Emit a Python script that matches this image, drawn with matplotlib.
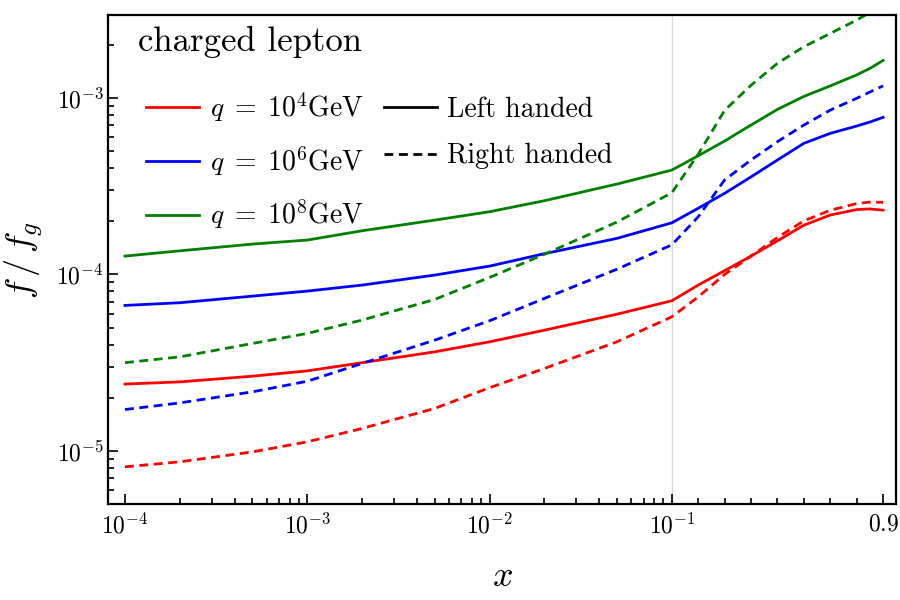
import numpy as np
import matplotlib
matplotlib.use("Agg")
import matplotlib.pyplot as plt
from matplotlib.lines import Line2D

plt.rcParams['font.family'] = 'serif'
plt.rcParams['font.serif'] = ['cmr10', 'DejaVu Serif']
plt.rcParams['mathtext.fontset'] = 'cm'
plt.rcParams['axes.unicode_minus'] = False

# x grid (log part up to 0.1, linear part after)
x_left = [1e-4, 2e-4, 5e-4, 1e-3, 2e-3, 5e-3, 1e-2, 2e-2, 5e-2, 0.1]
x_right = [0.2, 0.3, 0.4, 0.5, 0.6, 0.7, 0.8, 0.85, 0.9]
x_all = x_left + x_right

red_left = [2.39e-5, 2.46e-5, 2.65e-5, 2.84e-5, 3.16e-5, 3.64e-5, 4.15e-5, 4.83e-5, 5.95e-5, 7.09e-5,
            8.7e-5, 1.05e-4, 1.27e-4, 1.55e-4, 1.90e-4, 2.17e-4, 2.33e-4, 2.35e-4, 2.31e-4]
red_right = [8.12e-6, 8.67e-6, 9.87e-6, 1.125e-5, 1.34e-5, 1.74e-5, 2.28e-5, 2.93e-5, 4.15e-5, 5.75e-5,
             7.46e-5, 1.00e-4, 1.27e-4, 1.62e-4, 2.01e-4, 2.31e-4, 2.52e-4, 2.57e-4, 2.56e-4]
blue_left = [6.67e-5, 6.91e-5, 7.53e-5, 8.04e-5, 8.70e-5, 9.91e-5, 1.114e-4, 1.31e-4, 1.60e-4, 1.96e-4,
             2.37e-4, 2.88e-4, 3.57e-4, 4.45e-4, 5.53e-4, 6.30e-4, 6.93e-4, 7.3e-4, 7.76e-4]
blue_right = [1.715e-5, 1.87e-5, 2.16e-5, 2.48e-5, 3.13e-5, 4.24e-5, 5.46e-5, 7.31e-5, 1.07e-4, 1.47e-4,
              2.12e-4, 3.43e-4, 4.45e-4, 5.65e-4, 7.02e-4, 8.53e-4, 9.95e-4, 1.08e-3, 1.17e-3]
green_left = [1.27e-4, 1.36e-4, 1.485e-4, 1.565e-4, 1.767e-4, 2.03e-4, 2.265e-4, 2.615e-4, 3.25e-4, 3.90e-4,
              4.7e-4, 5.70e-4, 7.02e-4, 8.61e-4, 1.02e-3, 1.17e-3, 1.35e-3, 1.47e-3, 1.63e-3]
green_right = [3.16e-5, 3.41e-5, 4.06e-5, 4.63e-5, 5.51e-5, 7.21e-5, 9.61e-5, 1.30e-4, 1.98e-4, 2.90e-4,
               4.8e-4, 8.5e-4, 1.18e-3, 1.57e-3, 1.95e-3, 2.32e-3, 2.76e-3, 3.05e-3, 3.4e-3]

q_labels = [r"$q\;=\;10^{4}\mathrm{GeV}$", r"$q\;=\;10^{6}\mathrm{GeV}$", r"$q\;=\;10^{8}\mathrm{GeV}$"]
colors = ["#ff0000", "#0000ff", "#008000"]

SLOPE = 1.449


def fwd(x):
    x = np.asarray(x, dtype=float)
    lg = np.log10(np.maximum(x, 1e-30))
    return np.where(x <= 0.1, lg, -1 + (x - 0.1) * SLOPE)


def inv(y):
    y = np.asarray(y, dtype=float)
    return np.where(y <= -1, 10.0 ** np.minimum(y, 0), 0.1 + (y + 1) / SLOPE)


fig = plt.figure(figsize=(9, 6), dpi=100)
ax = fig.add_axes([0.12, 0.16, 0.8756, 0.815])

ax.axvline(0.1, color="#d8d8d8", lw=1, zorder=0)

DASH = (0, (3.2, 2.0))
series = [(red_left, red_right), (blue_left, blue_right), (green_left, green_right)]
for (left, right), c in zip(series, colors):
    ax.plot(x_all, left, color=c, lw=2.0)
    ax.plot(x_all, right, color=c, lw=2.0, ls=DASH)

ax.set_xscale('function', functions=(fwd, inv))
ax.set_yscale('log')
ax.set_xlim(8.07e-5, 0.949)
ax.set_ylim(5e-6, 2.95e-3)

ax.set_xticks([1e-4, 1e-3, 1e-2, 1e-1, 0.9])
ax.set_xticklabels([r"$10^{-4}$", r"$10^{-3}$", r"$10^{-2}$", r"$10^{-1}$", r"$0.9$"])
minor_x = [m * 10.0 ** e for e in range(-4, -1) for m in range(2, 10)] + [0.2, 0.3, 0.4, 0.5, 0.6, 0.7, 0.8]
ax.set_xticks(minor_x, minor=True)
ax.set_yticks([1e-5, 1e-4, 1e-3])
ax.set_yticklabels([r"$10^{-5}$", r"$10^{-4}$", r"$10^{-3}$"])
ax.set_yticks([m * 10.0 ** e for e in range(-6, -2) for m in range(2, 10)
               if 5e-6 <= m * 10.0 ** e <= 2.95e-3], minor=True)
ax.tick_params(which='both', direction='in', labelsize=17, width=1.2, colors='black')
ax.tick_params(which='major', length=7)
ax.tick_params(which='minor', length=4)
ax.tick_params(axis='x', which='major', pad=7)
ax.tick_params(axis='y', which='major', pad=3)
for s in ax.spines.values():
    s.set_linewidth(1.6)

ax.set_xlabel(r"$x$", fontsize=26)
ax.set_ylabel(r"$f\,/\,f_g$", fontsize=26)
ax.xaxis.set_label_coords(0.5, -0.118)
ax.yaxis.set_label_coords(-0.08, 0.5)

ax.text(0.038, 0.977, "charged lepton", transform=ax.transAxes, fontsize=25,
        va='top', ha='left')

handles = [Line2D([], [], color=c, lw=2.0) for c in colors]
handles += [Line2D([], [], color='black', lw=2.0),
            Line2D([], [], color='black', lw=2.0, ls=DASH)]
labels = q_labels + ["Left handed", "Right handed"]
ax.legend(handles, labels, ncol=2, loc='upper left', bbox_to_anchor=(0.017, 0.897),
          frameon=False, fontsize=20, handlelength=1.9, labelspacing=0.72,
          columnspacing=0.72, handletextpad=0.38)

fig.savefig("out.png", dpi=100)
